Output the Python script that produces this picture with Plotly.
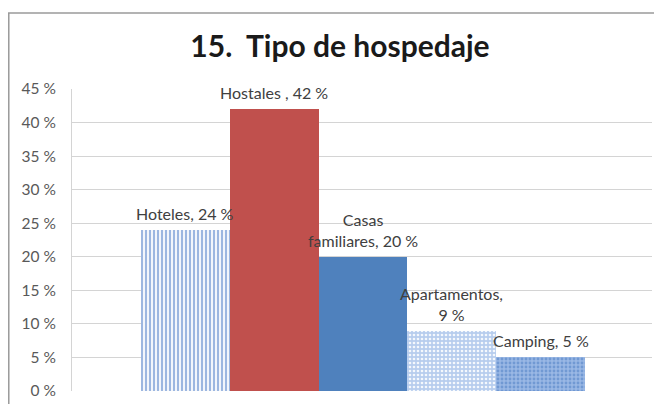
import plotly.graph_objects as go

categorias = ["Hoteles", "Hostales", "Casas familiares", "Apartamentos", "Camping"]
valores = [24, 42, 20, 9, 5]
etiquetas = ["Hoteles, 24 %", "Hostales , 42 %", "Casas<br>familiares, 20 %",
             "Apartamentos,<br>9 %", "Camping, 5 %"]
y_ticks = [0, 5, 10, 15, 20, 25, 30, 35, 40, 45]
y_ticktext = [f"{v} %" for v in y_ticks]

# look of each bar (excel-style fills)
bg_colors = ["#f3f6fb", "#c0504d", "#4f81bd", "#b7cdee", "#9ab8e5"]
fg_colors = ["#9db7e0", "#c0504d", "#4f81bd", "#f4f8fd", "#7199d3"]
shapes_p = ["|", "", "", ".", "."]
solidez = [0.5, 0.5, 0.5, 0.35, 0.4]

fig = go.Figure()
for c, v, bg, fg, sh, so in zip(categorias, valores, bg_colors, fg_colors, shapes_p, solidez):
    fig.add_trace(go.Bar(
        x=[c], y=[v],
        marker=dict(color=bg, line=dict(width=0),
                    pattern=dict(shape=sh, fgcolor=fg, bgcolor=bg, fgopacity=1,
                                 size=4, solidity=so, fillmode="overlay")),
        hoverinfo="skip",
    ))

for c, v, t in zip(categorias, valores, etiquetas):
    fig.add_annotation(x=c, y=v, text=t, showarrow=False, yanchor="bottom", yshift=5,
                       font=dict(family="Lato", size=16, color="#404040"))

# outer chart border
fig.add_shape(type="rect", xref="paper", yref="paper", x0=-0.109, y0=-0.2, x1=1.1, y1=1.252,
              line=dict(color="#9a9a9a", width=1.5), fillcolor="rgba(0,0,0,0)", layer="below")

fig.update_layout(
    width=662, height=404,
    margin=dict(l=64, r=18, t=81, b=21),
    paper_bgcolor="white", plot_bgcolor="white",
    barmode="overlay", bargap=0, showlegend=False,
    title=dict(text="<b>15.  Tipo de hospedaje</b>", x=332 / 662, xanchor="center",
               y=1 - 38 / 404, yanchor="middle",
               font=dict(family="Lato", size=30, color="#1a1a1a")),
)
fig.update_xaxes(range=[-1.277, 5.254], showticklabels=False, showgrid=False,
                 zeroline=False, showline=False)
fig.update_yaxes(range=[0, 45], tickvals=y_ticks, ticktext=y_ticktext,
                 showgrid=True, gridcolor="#d4d4d4", gridwidth=1,
                 showline=True, linecolor="#d4d4d4", zeroline=False, ticks="",
                 ticklabelstandoff=12,
                 tickfont=dict(family="Lato", size=15.5, color="#595959"))

fig.write_html("out.html")
